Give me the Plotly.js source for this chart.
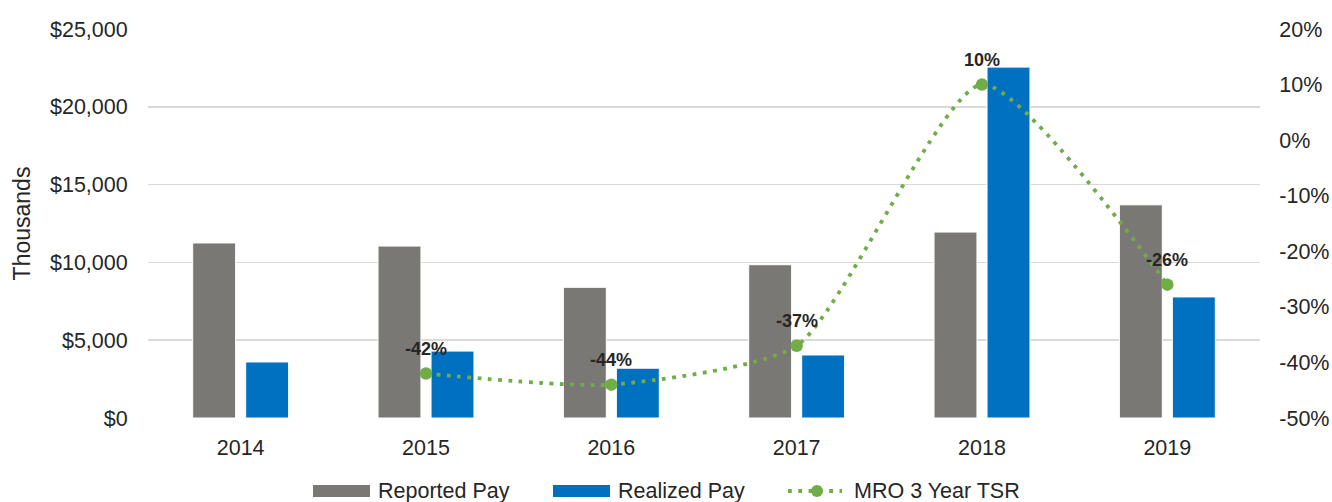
<!DOCTYPE html>
<html><head><meta charset="utf-8">
<script src="https://cdn.plot.ly/plotly-3.0.1.min.js"></script>
<style>html,body{margin:0;padding:0;background:#fff}#chart{width:1332px;height:502px}</style>
</head><body><div id="chart"></div>
<script>
const years = ['2014','2015','2016','2017','2018','2019'];
const reportedPay = [11250, 11050, 8400, 9850, 11950, 13700];
const realizedPay = [3600, 4300, 3200, 4050, 22550, 7780];
const tsrYears = ['2015','2016','2017','2018','2019'];
const tsr = [-0.42, -0.44, -0.37, 0.10, -0.26];
const tsrLabels = ['-42%','-44%','-37%','10%','-26%'];
const leftTicks = [0,5000,10000,15000,20000,25000];
const leftTickText = ['$0','$5,000','$10,000','$15,000','$20,000','$25,000'];
const rightTicks = [-0.5,-0.4,-0.3,-0.2,-0.1,0,0.1,0.2];
const rightTickText = ['-50%','-40%','-30%','-20%','-10%','0%','10%','20%'];
const seriesNames = ['Reported Pay','Realized Pay','MRO 3 Year TSR'];
const colors = {reported:'#7a7875', realized:'#0070c0', tsr:'#70ad47'};

const W = 1332, H = 502, M = {l:148, r:72, t:29, b:84};
const pw = W - M.l - M.r, ph = H - M.t - M.b;
const px = v => (v - M.l) / pw;          // pixel x -> paper x (legend only)
const py = v => (H - M.b - v) / ph;      // pixel y -> paper y (legend only)

const FF = '"Liberation Sans", Arial, sans-serif';
const font = {family:FF, size:21.5, color:'#262626'};
const labelFont = {family:FF, size:18, color:'#262626', weight:'bold'};
const traces = [
 {type:'bar', name:seriesNames[0], x:years, y:reportedPay, marker:{color:colors.reported, line:{color:'#ffffff', width:1}}},
 {type:'bar', name:seriesNames[1], x:years, y:realizedPay, marker:{color:colors.realized, line:{color:'#ffffff', width:1}}},
 {type:'scatter', mode:'lines+markers', name:seriesNames[2], x:tsrYears, y:tsr, yaxis:'y2',
  line:{color:colors.tsr, width:3.8, dash:'3.8px,6.5px', shape:'spline', smoothing:0.6},
  marker:{color:colors.tsr, size:12.5}}
];

// data labels for the TSR line (x given as category index)
const labelAnns = tsrYears.map((yr, i) => ({
 x:years.indexOf(yr), y:tsr[i], xref:'x', yref:'y2', text:tsrLabels[i], showarrow:false,
 yanchor:'middle', xanchor:'center', yshift:25, font:labelFont
}));

// custom legend (wide swatches like the original)
const shapes = [
 {type:'rect', xref:'paper', yref:'paper', x0:px(313), x1:px(370), y0:py(497), y1:py(485), fillcolor:colors.reported, line:{width:0}},
 {type:'rect', xref:'paper', yref:'paper', x0:px(553), x1:px(610), y0:py(497), y1:py(485), fillcolor:colors.realized, line:{width:0}},
 {type:'line', xref:'paper', yref:'paper', x0:px(788), x1:px(842), y0:py(491), y1:py(491), line:{color:colors.tsr, width:3.8, dash:'3.8px,6.5px'}},
 {type:'circle', xref:'paper', yref:'paper', x0:px(811), x1:px(823), y0:py(497), y1:py(485), fillcolor:colors.tsr, line:{width:0}}
];
const legendAnns = [
 {xref:'paper', yref:'paper', x:px(376), y:py(491), xanchor:'left', yanchor:'middle', text:seriesNames[0], showarrow:false, font:font},
 {xref:'paper', yref:'paper', x:px(616), y:py(491), xanchor:'left', yanchor:'middle', text:seriesNames[1], showarrow:false, font:font},
 {xref:'paper', yref:'paper', x:px(852), y:py(491), xanchor:'left', yanchor:'middle', text:seriesNames[2], showarrow:false, font:font}
];

const layout = {
 width:W, height:H,
 margin:{l:M.l, r:M.r, t:M.t, b:M.b, autoexpand:false},
 paper_bgcolor:'#fff', plot_bgcolor:'#fff',
 font:font,
 barmode:'group', bargap:0.428, bargroupgap:0.19,
 showlegend:false,
 shapes:shapes, annotations:labelAnns.concat(legendAnns),
 xaxis:{type:'category', categoryorder:'array', categoryarray:years, showgrid:false, zeroline:false, showline:false, ticks:'outside', ticklen:10, tickcolor:'rgba(0,0,0,0)', tickfont:font, automargin:false},
 yaxis:{range:[0,25000], tickvals:leftTicks, ticktext:leftTickText, showgrid:true, gridcolor:'#d9d9d9', gridwidth:1.5,
  zeroline:false, showline:false, ticks:'outside', ticklen:15, tickcolor:'rgba(0,0,0,0)', tickfont:font, automargin:false,
  title:{text:'Thousands', font:{family:FF, size:23, color:'#262626'}, standoff:12}},
 yaxis2:{overlaying:'y', side:'right', range:[-0.5,0.2], tickvals:rightTicks, ticktext:rightTickText, showgrid:false,
  zeroline:false, showline:false, ticks:'outside', ticklen:14, tickcolor:'rgba(0,0,0,0)', tickfont:font, automargin:false}
};
Plotly.newPlot('chart', traces, layout, {displayModeBar:false, staticPlot:true});
</script></body></html>
